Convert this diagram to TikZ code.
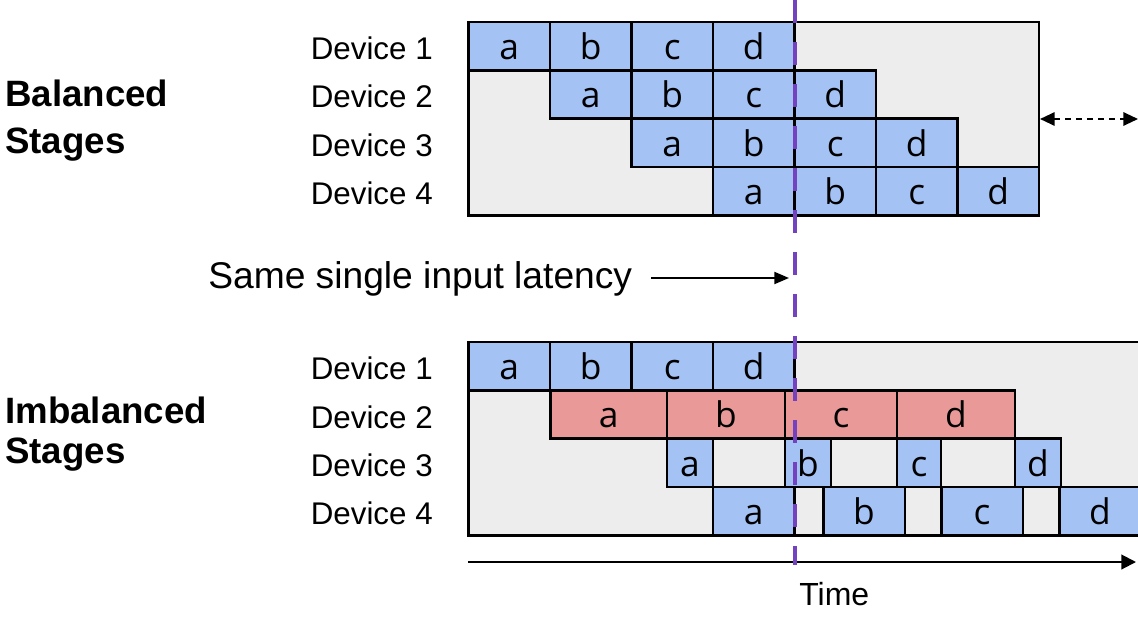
\documentclass[tikz,border=0pt]{standalone}
\usepackage{fontspec}
\setmainfont{Liberation Sans}
\newfontfamily\cellfont{Open Sans}
\usetikzlibrary{arrows.meta}
\definecolor{cellblue}{HTML}{A4C2F4}
\definecolor{cellred}{HTML}{EA9999}
\definecolor{panelgray}{HTML}{EDEDED}
\definecolor{markpurple}{HTML}{7442C1}

% one schedule block: name, fill, left edge, width, row centre, label
\newcommand\cellblk[6]{%
  \node[cell, fill=#2, minimum width={#4*0.75pt}] (#1) at ({#3+#4/2},{#5}) {#6};}

\begin{document}
\begin{tikzpicture}[x=0.75pt,y=-0.75pt,
  panel/.style={draw=black, line width=1.8pt, fill=panelgray},
  cell/.style={draw=black, line width=1.8pt, inner sep=0pt,
    minimum height=36.2pt, text height=20pt, text depth=0pt,
    font=\cellfont\fontsize{26.5}{30}\selectfont},
  devlbl/.style={anchor=base east, inner sep=0pt, font=\fontsize{23.5}{28}\selectfont},
  grplbl/.style={anchor=base west, inner sep=0pt, font=\bfseries\fontsize{27.5}{32}\selectfont},
  txtlbl/.style={anchor=base west, inner sep=0pt, font=\fontsize{27.9}{32}\selectfont},
  arr/.style={line width=1.5pt, -{Triangle[length=11pt,width=9pt]}},
  marker/.style={markpurple, line width=3pt, dash pattern=on 17.25pt off 14.25pt}]
\useasboundingbox (0,0) rectangle (1138,617);

% ---- balanced stages ----
\node[panel, inner sep=0pt, minimum width={570.5*0.75pt}, minimum height={193.3*0.75pt}]
  (toppanel) at ({468.5+570.5/2},{22+193.3/2}) {};
\foreach \r in {0,...,3}
  \foreach \c/\l in {0/a,1/b,2/c,3/d}
    {\cellblk{t\r\l}{cellblue}{468.5+81.5*(\r+\c)}{81.5}{46.2+48.3*\r}{\l}}

% ---- imbalanced stages ----
\node[panel, inner sep=0pt, minimum width={672*0.75pt}, minimum height={193.3*0.75pt}]
  (botpanel) at ({468.5+672/2},{342+193.3/2}) {};
\foreach \c/\l in {0/a,1/b,2/c,3/d}
  {\cellblk{b0\l}{cellblue}{468.5+81.5*\c}{81.5}{366.2}{\l}}
\foreach \x/\w/\l in {550.5/116.5/a,667/118/b,785/112/c,897/118/d}
  {\cellblk{b1\l}{cellred}{\x}{\w}{414.5}{\l}}
\foreach \x/\w/\l in {667/46/a,785/45.7/b,897/44/c,1015/46/d}
  {\cellblk{b2\l}{cellblue}{\x}{\w}{462.8}{\l}}
\foreach \x/\w/\l in {713/81.5/a,823.3/81.4/b,941.3/81.4/c,1059.3/81.5/d}
  {\cellblk{b3\l}{cellblue}{\x}{\w}{511.2}{\l}}

% ---- device labels ----
\foreach \i in {1,...,4}{
  \node[devlbl] (td\i) at (433,{46.2+48.3*(\i-1)+13.5}) {Device \i};
  \node[devlbl] (bd\i) at (433,{366.2+48.3*(\i-1)+13.5}) {Device \i};
}

% ---- group labels ----
\node[grplbl] (gbal1) at (5,107) {Balanced};
\node[grplbl] (gbal2) at (5,153) {Stages};
\node[grplbl] (gimb1) at (5,423) {Imbalanced};
\node[grplbl] (gimb2) at (5,463.5) {Stages};

% ---- latency marker ----
\coordinate (mtop) at (795,0);
\coordinate (mbot) at (795,565);
\node[txtlbl] (same) at (208,288) {Same single input latency};
\coordinate (lat) at (789,278);
\draw[arr] ([xshift=14pt,yshift=7.5pt]same.base east) -- (lat);

% ---- stretch arrow ----
\coordinate (sw) at (1040,119);
\coordinate (se) at (1138,119);
\draw[line width=1.5pt, dash pattern=on 4.5pt off 3.75pt,
  {Triangle[length=11pt,width=10pt]}-{Triangle[length=11pt,width=10pt]}] (sw) -- (se);

% ---- time axis ----
\coordinate (t0) at (468,562);
\coordinate (t1) at (1136,562);
\draw[arr, -{Triangle[length=11pt,width=11pt]}] (t0) -- (t1);
\node[txtlbl, font=\fontsize{24}{28}\selectfont] (time) at (799,605) {Time};

\draw[marker] (mtop) -- (mbot);
\end{tikzpicture}
\end{document}
